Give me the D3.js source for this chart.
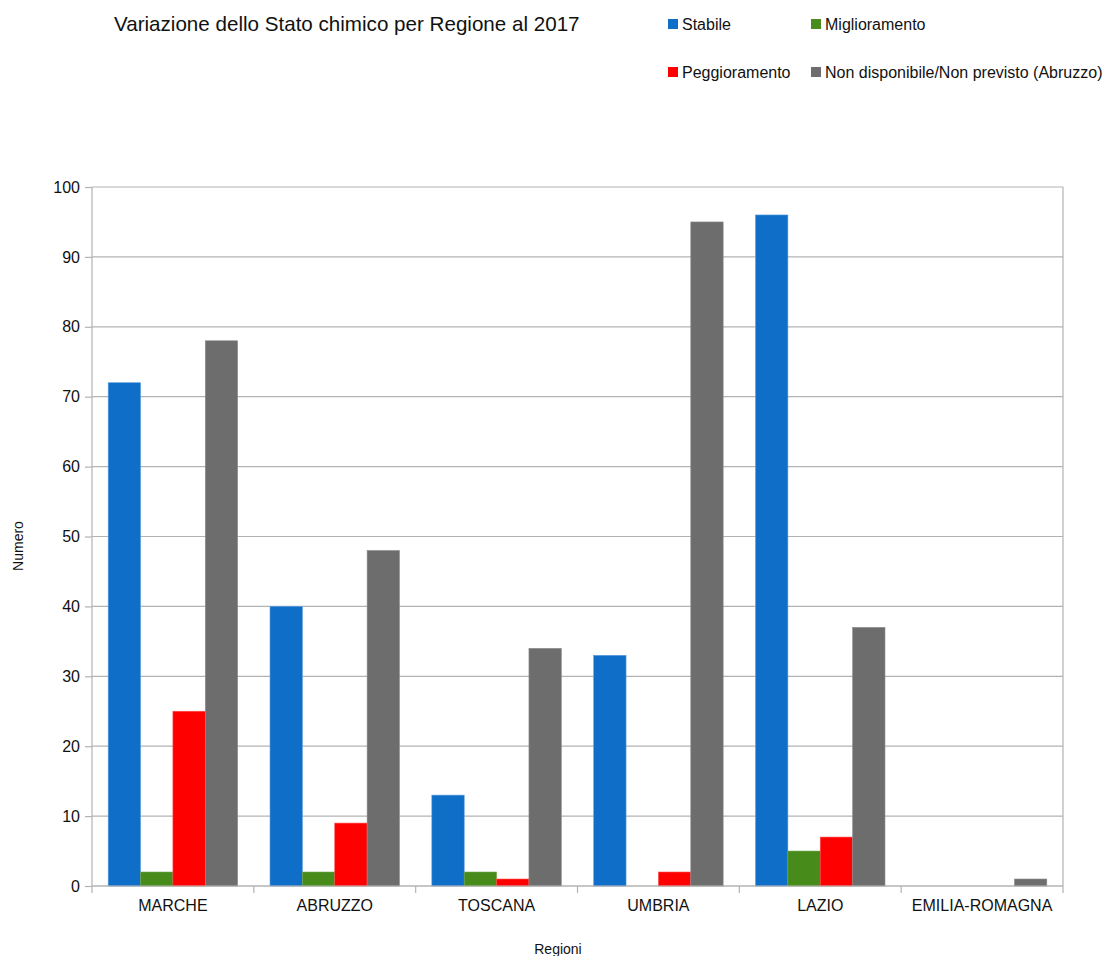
<!DOCTYPE html>
<html>
<head>
<meta charset="utf-8">
<script src="https://cdn.jsdelivr.net/npm/d3@7"></script>
<style>
  html, body { margin: 0; padding: 0; background: #fff; }
  svg { display: block; font-family: "Liberation Sans", Arial, sans-serif; }
</style>
</head>
<body>
<svg id="chart" width="1106" height="956"></svg>
<script>
// Regions on the x axis
const regioni = ["MARCHE", "ABRUZZO", "TOSCANA", "UMBRIA", "LAZIO", "EMILIA-ROMAGNA"];

// Series names and values per region
const serie = ["Stabile", "Miglioramento", "Peggioramento", "Non disponibile/Non previsto (Abruzzo)"];
const stabile        = [72, 40, 13, 33, 96, 0];
const miglioramento  = [2, 2, 2, 0, 5, 0];
const peggioramento  = [25, 9, 1, 2, 7, 0];
const nonDisponibile = [78, 48, 34, 95, 37, 1];

// Y axis ticks
const yTicks = [0, 10, 20, 30, 40, 50, 60, 70, 80, 90, 100];

const colori = ["#0f6ec7", "#478b1b", "#ff0000", "#6d6d6d"];
const bordi  = ["#5b9fe0", "#6ea34a", "#ff4d4d", "#8c8c8c"];

const valori = [stabile, miglioramento, peggioramento, nonDisponibile];

const svg = d3.select("#chart");
const pLeft = 92, pRight = 1063, pTop = 187, pBottom = 886;
const fontTesto = "'Liberation Sans', Arial, sans-serif";

const x0 = d3.scaleBand().domain(regioni).range([pLeft, pRight]).paddingInner(0).paddingOuter(0);
const x1 = d3.scaleBand().domain(d3.range(serie.length))
  .range([0, x0.bandwidth()]).paddingOuter(0.5).paddingInner(0);
const y = d3.scaleLinear().domain([0, 100]).range([pBottom, pTop]);

// Horizontal grid lines
svg.append("g").selectAll("line").data(yTicks).join("line")
  .attr("x1", pLeft).attr("x2", pRight)
  .attr("y1", d => y(d)).attr("y2", d => y(d))
  .attr("stroke", "#b3b3b3").attr("stroke-width", 1.2);

// Right border of plot area
svg.append("line")
  .attr("x1", pRight).attr("x2", pRight).attr("y1", pTop).attr("y2", pBottom + 7)
  .attr("stroke", "#b3b3b3").attr("stroke-width", 1.2);

// Bars
const gruppi = svg.append("g").selectAll("g").data(regioni).join("g")
  .attr("transform", d => `translate(${x0(d)},0)`);
gruppi.selectAll("rect")
  .data((d, i) => valori.map((s, k) => ({ k, v: s[i] })).filter(e => e.v > 0))
  .join("rect")
  .attr("x", d => x1(d.k))
  .attr("width", x1.bandwidth())
  .attr("y", d => y(d.v))
  .attr("height", d => y(0) - y(d.v))
  .attr("fill", d => colori[d.k])
  .attr("stroke", d => bordi[d.k])
  .attr("stroke-width", 0.6);

// Y axis
const yAxis = d3.axisLeft(y).tickValues(yTicks).tickSize(7).tickPadding(5).tickSizeOuter(0);
const gy = svg.append("g").attr("transform", `translate(${pLeft},0)`).call(yAxis);
gy.select(".domain").attr("stroke", "#b3b3b3").attr("stroke-width", 1.2)
  .attr("d", `M0,${pTop}V${pBottom + 7}`);
gy.selectAll(".tick line").attr("stroke", "#b3b3b3").attr("stroke-width", 1.2);
gy.selectAll(".tick text").attr("font-size", 16).attr("fill", "#111")
  .attr("font-family", fontTesto);

// X axis: category labels and boundary ticks
const gx = svg.append("g").attr("transform", `translate(0,${pBottom})`)
  .call(d3.axisBottom(x0).tickSize(0).tickPadding(14));
gx.select(".domain").attr("stroke", "#b3b3b3").attr("stroke-width", 1.2)
  .attr("d", `M${pLeft},0H${pRight}`);
gx.selectAll(".tick text").attr("font-size", 16).attr("fill", "#111")
  .attr("font-family", fontTesto);
svg.append("g").selectAll("line").data(regioni.slice(1)).join("line")
  .attr("x1", d => x0(d)).attr("x2", d => x0(d))
  .attr("y1", pBottom).attr("y2", pBottom + 7)
  .attr("stroke", "#b3b3b3").attr("stroke-width", 1.2);

// Axis titles
svg.append("text").attr("x", 558).attr("y", 954)
  .attr("text-anchor", "middle").attr("font-size", 14).attr("fill", "#111").text("Regioni");
svg.append("text").attr("transform", "translate(23,546) rotate(-90)")
  .attr("text-anchor", "middle").attr("font-size", 14).attr("fill", "#111").text("Numero");

// Title
svg.append("text").attr("x", 114).attr("y", 31).attr("font-size", 20.6).attr("fill", "#111")
  .text("Variazione dello Stato chimico per Regione al 2017");

// Legend (two columns, two rows)
const legPos = [[668, 24], [811, 24], [668, 72], [811, 72]];
const leg = svg.append("g").selectAll("g").data(serie).join("g")
  .attr("transform", (d, i) => `translate(${legPos[i][0]},${legPos[i][1]})`);
leg.append("rect").attr("x", 0).attr("y", -5).attr("width", 10).attr("height", 10)
  .attr("fill", (d, i) => colori[i]);
leg.append("text").attr("x", 14).attr("y", 5.5).attr("font-size", 16).attr("fill", "#111")
  .text(d => d);
</script>
</body>
</html>
